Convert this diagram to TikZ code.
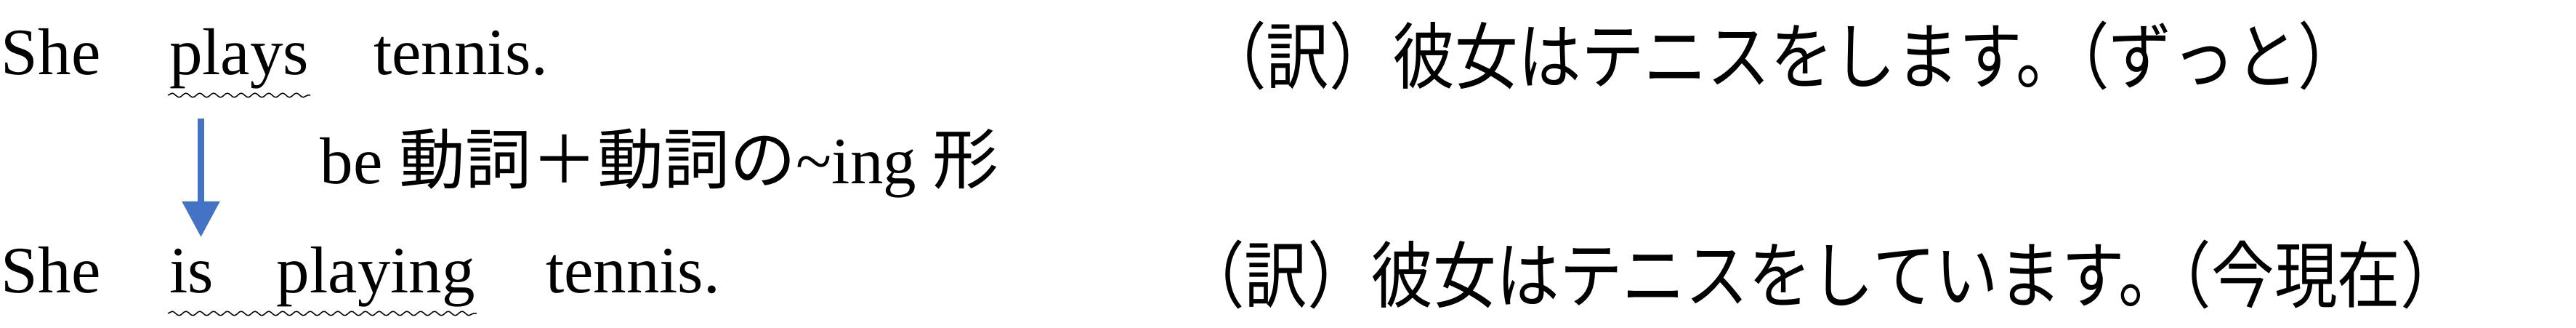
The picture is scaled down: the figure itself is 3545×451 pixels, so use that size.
\documentclass[tikz,border=0pt]{standalone}
\usepackage{fontspec}
\setmainfont{Liberation Serif}
\newfontfamily\jpfont{Noto Sans CJK JP}
\newfontfamily\jpnarrow{Noto Sans CJK JP}[FakeStretch=0.867]
\newcommand{\squeeze}{\kern-.45em}
\usetikzlibrary{positioning}
\usetikzlibrary{arrows.meta}
\usetikzlibrary{decorations.pathmorphing}
\definecolor{arrowblue}{HTML}{4472C4}

\begin{document}
\begin{tikzpicture}[x=0.1pt,y=-0.1pt,
  word/.style={anchor=base west,inner sep=0pt,font=\fontsize{9.1pt}{11pt}\selectfont},
  yaku/.style={anchor=base west,inner sep=0pt,font=\fontsize{10pt}{12pt}\jpnarrow},
  wavy/.style={line width=0.15pt,decorate,decoration={snake,amplitude=0.28pt,segment length=1.9pt}},
  change/.style={arrowblue,line width=0.85pt,-{Triangle[width=5pt,length=4.9pt]}}]
 \useasboundingbox (0,0) rectangle (3545,451);
 \node[word] (she1) at (0,103) {She};
 \node[word] (plays) at (231,103) {plays};
 \node[word] (tennis1) at (512,103) {tennis.};
 \node[yaku] (jp1) at (1654,115) {（訳）彼女はテニスをします。\squeeze（ずっと）};
 \node[word] (rule) at (439,253) {be {\jpfont 動詞＋動詞の}\string~ing {\jpfont 形}};
 \node[word] (she2) at (0,403) {She};
 \node[word] (is) at (231,403) {is};
 \node[word] (playing) at (379,403) {playing};
 \node[word] (tennis2) at (749,403) {tennis.};
 \node[yaku] (jp2) at (1624,416) {（訳）彼女はテニスをしています。\squeeze（今現在）};
 \draw[wavy]([yshift=-2.8pt]plays.base west)--([yshift=-2.8pt]plays.base east);
 \draw[wavy]([yshift=-2.8pt]is.base west)--([yshift=-2.8pt]playing.base east);
 \coordinate (from) at (276.5,163);
 \coordinate (to) at (276.5,326);
 \draw[change](from)--(to);
\end{tikzpicture}
\end{document}
